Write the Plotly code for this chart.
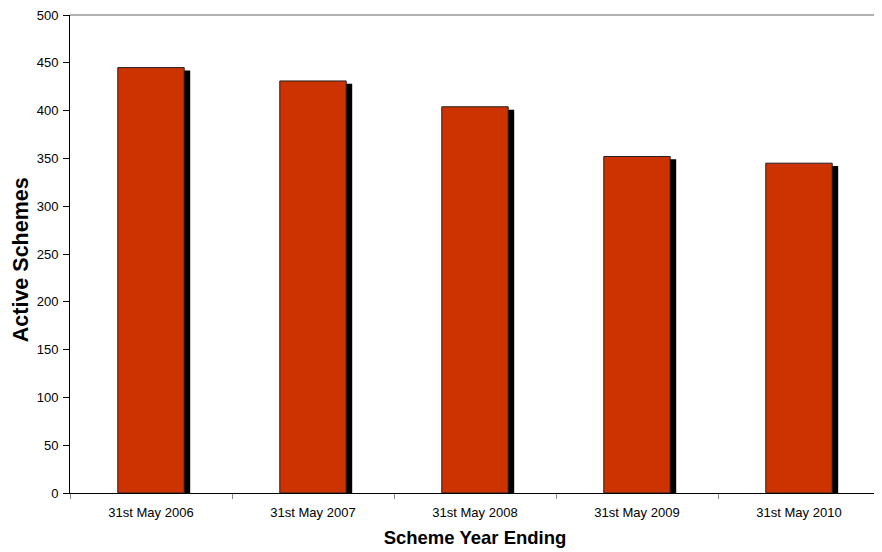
import plotly.graph_objects as go

categories = ["31st May 2006", "31st May 2007", "31st May 2008", "31st May 2009", "31st May 2010"]
active_schemes = [445, 431, 404, 352, 345]

bar_width = 0.41
shadow_dx = 0.037   # category units
shadow_dy = 3       # value units

fig = go.Figure()
# shadow
fig.add_trace(go.Bar(
    x=categories, y=[v for v in active_schemes], base=-shadow_dy,
    width=bar_width, offset=-bar_width / 2 + shadow_dx,
    marker=dict(color="#000000", line=dict(width=0)),
    hoverinfo="skip", showlegend=False,
))
# main bars
fig.add_trace(go.Bar(
    x=categories, y=active_schemes,
    width=bar_width, offset=-bar_width / 2,
    marker=dict(color="#CC3300", line=dict(color="#222222", width=1)),
    showlegend=False,
))

fig.update_layout(
    width=882, height=552,
    barmode="overlay",
    paper_bgcolor="white", plot_bgcolor="white",
    margin=dict(l=62, r=10, t=7, b=67, autoexpand=False),
    font=dict(family="Liberation Sans, Arial, sans-serif", color="#000000", size=13),
    xaxis=dict(
        type="category", tickson="boundaries", ticks="outside", ticklen=5,
        tickcolor="#888888", showline=True, linecolor="#000000", linewidth=1,
        showgrid=False, tickfont=dict(size=13), automargin=False,
        ticklabelstandoff=7,
        title=dict(text="<b>Scheme Year Ending</b>", font=dict(size=18.5), standoff=12),
    ),
    yaxis=dict(
        range=[0, 500], dtick=50, ticks="outside", ticklen=6, tickcolor="#000000",
        showline=True, linecolor="#000000", linewidth=1, showgrid=False,
        zeroline=False, tickfont=dict(size=13), automargin=False,
        ticklabelstandoff=2, ticklabeloverflow="allow",
    ),
    annotations=[dict(
        text="<b>Active Schemes</b>", textangle=-90, showarrow=False,
        xref="paper", yref="paper", x=0, y=0.487, xanchor="center", yanchor="middle",
        xshift=-49, font=dict(size=21.5),
    )],
    shapes=[dict(type="line", xref="paper", yref="paper", x0=0, x1=1, y0=1, y1=1,
                 line=dict(color="#999999", width=1.5))],
)

fig.write_html("out.html")
